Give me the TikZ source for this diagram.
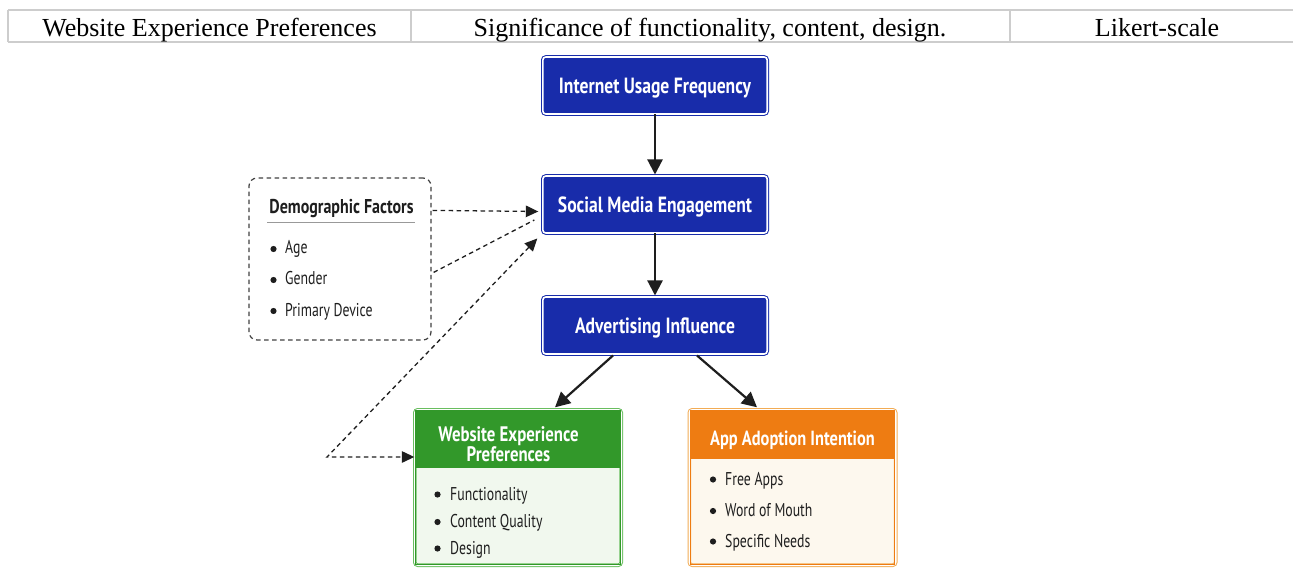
\documentclass[tikz,border=0pt]{standalone}
\usepackage{fontspec}
\setmainfont{Liberation Serif}
\newfontfamily\diag[FakeStretch=0.80]{PT Sans}
\newfontfamily\diagnarrow[FakeStretch=0.745]{PT Sans}
\usetikzlibrary{arrows.meta,calc}

\definecolor{tablegray}{RGB}{205,205,205}
\definecolor{boxblue}{RGB}{24,44,170}
\definecolor{webgreen}{RGB}{50,152,42}
\definecolor{webline}{RGB}{105,190,95}
\definecolor{webbody}{RGB}{241,248,238}
\definecolor{apporange}{RGB}{238,124,18}
\definecolor{appline}{RGB}{242,172,85}
\definecolor{appbody}{RGB}{253,248,238}
\definecolor{ink}{RGB}{30,30,30}

\tikzset{
  cell/.style={anchor=base, inner sep=0pt, font=\fontsize{26}{30}\selectfont},
  bluebox/.style={draw=boxblue, double=white, double distance=1.6pt, line width=1pt,
    fill=boxblue, rounded corners=3pt, minimum width=224.4pt, minimum height=57pt,
    inner sep=0pt, text height=15.4pt, text depth=0pt, text=white,
    font=\diag\bfseries\fontsize{22}{24}\selectfont},
  listbox/.style={double=white, double distance=1.6pt, line width=1pt,
    rounded corners=3pt, minimum width=206.4pt, minimum height=155.4pt, inner sep=0pt},
  headtext/.style={text=white, align=center, inner sep=0pt,
    font=\diag\bfseries\fontsize{21}{19.5}\selectfont},
  item/.style={anchor=base west, inner sep=0pt, text=ink,
    font=\diagnarrow\fontsize{18.5}{20}\selectfont},
  dot/.style={circle, fill=ink, inner sep=0pt, minimum size=6.2pt},
  flow/.style={draw=ink, line width=2.2pt, -{Triangle[length=15pt,width=15pt]}},
  link/.style={draw=ink, line width=1.3pt, dash pattern=on 4.5pt off 3.5pt},
  linkhead/.style={-{Triangle[length=12.5pt,width=11.5pt]}}
}

\begin{document}
\begin{tikzpicture}[x=1pt,y=-1pt]
\useasboundingbox (0,0) rectangle (1293,569);

% table row above the chart
\draw[tablegray, line width=1.4pt]
  (8,10) -- (1293,10)
  (8,42) -- (1293,42)
  (8,10) -- (8,42)
  (411,10) -- (411,42)
  (1010,10) -- (1010,42);
\node[cell] (c1) at (209.5,36.5) {Website Experience Preferences};
\node[cell] (c2) at (710,36.5) {Significance of functionality, content, design.};
\node[cell] (c3) at (1157,36.5) {Likert-scale};

% main chain
\node[bluebox] (iuf) at (655,85.5) {Internet Usage Frequency};
\node[bluebox] (sme) at (655,204.5) {Social Media Engagement};
\node[bluebox] (adv) at (655,325.5) {Advertising Influence};

% website experience box
\node[listbox, draw=webline, fill=webbody] (web) at (518,487.5) {};
\fill[webgreen] ($(web.north west)+(1.8,1.8)$) rectangle ($(web.north east)+(-1.8,59)$);
\draw[webgreen, line width=1pt] ($(web.north west)+(1.3,1.3)$) rectangle ($(web.south east)+(-1.3,-1.3)$);
\node[headtext] (webhead) at ($(web.north)+(-9.5,35)$) {Website Experience\\Preferences};
\node[dot] (wd1) at (437.5,494.5) {};
\node[item] (w1) at (450,500) {Functionality};
\node[dot] (wd2) at (437.5,522) {};
\node[item] (w2) at (450,527.5) {Content Quality};
\node[dot] (wd3) at (437.5,548.5) {};
\node[item] (w3) at (450,554) {Design};

% app adoption box
\node[listbox, draw=appline, fill=appbody] (app) at (792.5,487.5) {};
\fill[apporange] ($(app.north west)+(1.8,1.8)$) rectangle ($(app.north east)+(-1.8,50)$);
\draw[apporange, line width=1pt] ($(app.north west)+(1.3,1.3)$) rectangle ($(app.south east)+(-1.3,-1.3)$);
\node[headtext, font=\diag\bfseries\fontsize{20.5}{20}\selectfont] (apphead)
  at ($(app.north)+(0,30.5)$) {App Adoption Intention};
\node[dot] (ad1) at (713,479.5) {};
\node[item] (a1) at (725,485) {Free Apps};
\node[dot] (ad2) at (713,511) {};
\node[item] (a2) at (725,516.5) {Word of Mouth};
\node[dot] (ad3) at (713,541.5) {};
\node[item] (a3) at (725,547) {Specific Needs};

% demographic factors
\node[draw=ink!85, line width=1.2pt, dash pattern=on 4.5pt off 3.5pt, rounded corners=8pt,
      minimum width=182pt, minimum height=162pt, inner sep=0pt] (dem) at (340,259) {};
\node[anchor=base, inner sep=0pt, text=ink, font=\diag\bfseries\fontsize{20}{22}\selectfont]
  (demtitle) at (341.5,214) {Demographic Factors};
\draw[gray!80, line width=1pt] ($(dem.north west)+(19,45)$) -- ($(dem.north east)+(-17,45)$);
\node[dot] (dd1) at (273.5,249) {};
\node[item] (d1) at (285,254) {Age};
\node[dot] (dd2) at (273.5,280) {};
\node[item] (d2) at (285,285) {Gender};
\node[dot] (dd3) at (273.5,311) {};
\node[item] (d3) at (285,316.5) {Primary Device};

% solid flow arrows
\draw[flow] (iuf.south) -- ($(sme.north)+(0,-1)$);
\draw[flow] (sme.south) -- ($(adv.north)+(0,-1)$);
\draw[flow] ($(adv.south)+(-42,1)$) -- ($(web.north)+(37,-2)$);
\draw[flow] ($(adv.south)+(42,1)$) -- ($(app.north)+(-35.5,-2)$);

% dashed links from the demographic box
\coordinate (bend) at (327,457);
\draw[link, linkhead] ($(dem.north east)+(1,33)$) -- ($(sme.west)+(-4,7)$);
\draw[link] ($(dem.north east)+(2,95)$) -- ($(sme.west)+(-8,15.5)$);
\draw[link, {Triangle[length=12.5pt,width=11.5pt]}-{Triangle[length=12.5pt,width=11.5pt]}]
  ($(sme.south west)+(-5,5)$) -- (bend) -- (bend -| web.west);
\end{tikzpicture}
\end{document}
